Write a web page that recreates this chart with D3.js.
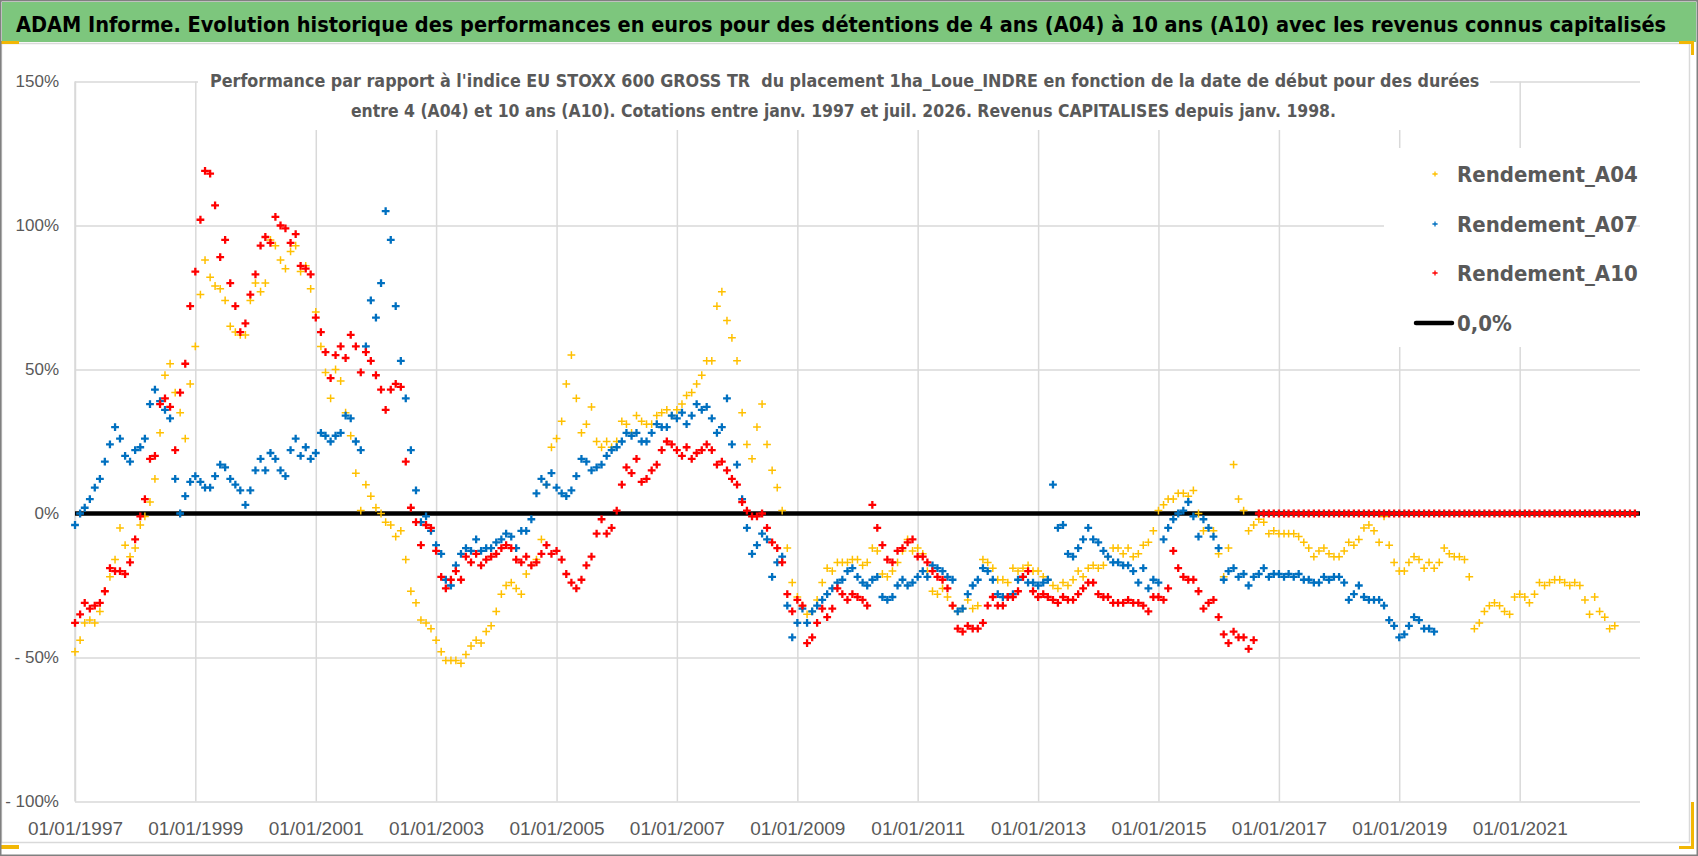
<!DOCTYPE html>
<html lang="fr">
<head>
<meta charset="UTF-8">
<title>ADAM Informe</title>
<style>
  body { margin: 0; background: #fff; }
  svg { display: block; font-family: "Liberation Sans Narrow", "Arial Narrow", "DejaVu Sans Condensed", sans-serif; }
  .pre { white-space: pre; }
</style>
</head>
<body>
<script src="https://cdn.jsdelivr.net/npm/d3@7/dist/d3.min.js"></script>
<script>
const titre = "ADAM Informe. Evolution historique des performances en euros pour des détentions de 4 ans (A04) à 10 ans (A10) avec les revenus connus capitalisés";
const sousTitre = [
  "Performance par rapport à l'indice EU STOXX 600 GROSS TR  du placement 1ha_Loue_INDRE en fonction de la date de début pour des durées",
  "entre 4 (A04) et 10 ans (A10). Cotations entre janv. 1997 et juil. 2026. Revenus CAPITALISES depuis janv. 1998."
];

// une valeur par mois a partir de janvier 1997 (en %)
const rendementA04 = [
  -48,-44,-38,-37,-38,-34,-27,-22,-16,-5,-11,-15,
  -12,-4,-1,4,12,28,48,52,42,35,26,45,
  58,76,88,82,79,78,74,65,63,62,62,74,
  80,77,80,95,93,88,85,91,93,84,86,78,
  70,58,49,40,50,46,35,27,14,1,10,6,
  2,0,-3,-4,-8,-6,-16,-27,-31,-37,-38,-40,
  -44,-48,-51,-51,-51,-52,-49,-46,-44,-45,-41,-39,
  -34,-28,-25,-24,-26,-28,-21,-18,-16,-9,10,23,
  26,32,45,55,40,28,31,37,25,23,25,23,
  25,32,31,28,34,32,31,31,34,35,36,34,
  36,38,41,42,45,48,53,53,72,77,67,61,
  53,35,24,19,30,38,24,15,9,1,-12,-24,
  -29,-32,-35,-34,-30,-24,-19,-20,-17,-17,-17,-16,
  -16,-18,-17,-12,-13,-21,-22,-20,-17,-13,-9,-13,
  -12,-14,-20,-27,-28,-26,-29,-32,-34,-33,-30,-33,
  -32,-16,-17,-19,-23,-23,-24,-19,-20,-19,-18,-20,
  -20,-22,-23,-25,-26,-24,-25,-23,-20,-22,-19,-18,
  -19,-18,-15,-12,-12,-14,-12,-15,-14,-11,-10,-6,
  1,3,5,5,7,7,6,8,0,-6,-5,-6,
  -14,-22,-12,17,5,1,-6,-4,-2,-3,-7,-6,
  -7,-7,-7,-7,-8,-10,-12,-15,-13,-12,-14,-15,
  -15,-13,-10,-11,-9,-5,-4,-6,-10,-1,-11,-17,
  -20,-20,-17,-15,-16,-19,-17,-19,-17,-12,-14,-15,
  -15,-16,-22,-40,-38,-34,-32,-31,-32,-34,-35,-29,
  -28,-29,-31,-28,-24,-25,-24,-23,-23,-24,-25,-24,
  -25,-30,-35,-29,-34,-36,-40,-39
];

const rendementA07 = [
  -4,0,2,5,9,12,18,24,30,26,20,18,
  22,23,26,38,43,39,36,33,12,0,6,11,
  13,11,9,9,13,17,16,12,10,8,3,8,
  15,19,15,21,19,15,13,22,26,20,23,19,
  21,28,27,25,27,28,34,33,25,22,58,74,
  68,80,105,95,72,53,40,22,8,-3,-1,-6,
  -11,-14,-23,-25,-18,-14,-12,-13,-9,-13,-12,-12,
  -10,-9,-7,-8,-12,-6,-6,-2,7,12,10,14,
  9,7,6,8,13,19,18,15,16,17,20,22,
  23,25,28,27,28,25,25,28,31,30,30,34,
  33,35,31,34,38,36,37,33,28,30,40,24,
  17,5,-5,-14,-11,-7,-9,-22,-17,-15,-32,-43,
  -38,-33,-38,-34,-32,-30,-28,-26,-24,-23,-20,-19,
  -22,-24,-25,-23,-22,-29,-30,-29,-25,-23,-25,-24,
  -22,-20,-22,-18,-19,-20,-22,-23,-34,-33,-28,-25,
  -23,-19,-20,-23,-28,-29,-29,-28,-23,-22,-24,-24,
  -25,-24,-23,10,-5,-4,-14,-15,-12,-9,-5,-9,
  -10,-13,-15,-17,-17,-18,-18,-20,-24,-19,-26,-23,
  -24,-9,-5,-2,0,1,4,-1,-8,-2,-5,-8,
  -12,-23,-20,-19,-22,-21,-25,-22,-21,-19,-22,-21,
  -21,-22,-21,-22,-21,-23,-23,-24,-24,-22,-23,-22,
  -22,-24,-30,-28,-25,-29,-30,-30,-30,-32,-37,-39,
  -43,-42,-39,-36,-37,-40,-40,-41
];

const rendementA10 = [
  -38,-35,-31,-33,-32,-31,-27,-19,-20,-20,-21,-17,
  -9,-1,5,19,20,38,40,37,22,42,52,72,
  84,102,119,118,107,89,95,80,72,63,66,76,
  83,93,96,94,103,100,99,94,97,86,85,83,
  68,63,56,47,55,58,54,62,58,49,56,53,
  48,43,36,43,45,44,18,2,-3,-11,-4,-5,
  -13,-22,-26,-23,-20,-23,-15,-17,-14,-18,-16,-15,
  -14,-12,-11,-12,-16,-17,-15,-18,-17,-14,-11,-14,
  -13,-16,-21,-24,-26,-23,-18,-15,-7,-2,-7,-5,
  1,10,16,14,19,11,12,15,17,22,25,24,
  22,20,23,19,21,22,24,22,17,18,15,12,
  10,4,1,-1,-1,0,-5,-10,-12,-17,-28,-34,
  -30,-32,-45,-43,-38,-33,-36,-33,-26,-28,-30,-28,
  -29,-30,-32,3,-5,-11,-16,-17,-13,-12,-10,-9,
  -15,-15,-17,-20,-22,-23,-26,-32,-40,-41,-39,-40,
  -40,-38,-32,-29,-32,-32,-29,-29,-27,-22,-20,-27,
  -29,-28,-29,-30,-31,-29,-30,-30,-28,-26,-24,-24,
  -28,-29,-29,-31,-31,-31,-30,-31,-31,-32,-34,-29,
  -29,-30,-26,-13,-19,-22,-23,-23,-27,-33,-31,-30,
  -36,-42,-45,-41,-43,-43,-47,-44,0,0,0,0,
  0,0,0,0,0,0,0,0,0,0,0,0,
  0,0,0,0,0,0,0,0,0,0,0,0,
  0,0,0,0,0,0,0,0,0,0,0,0,
  0,0,0,0,0,0,0,0,0,0,0,0,
  0,0,0,0,0,0,0,0,0,0,0,0,
  0,0,0,0,0,0,0,0,0,0,0,0
];

const series = ["Rendement_A04", "Rendement_A07", "Rendement_A10"];
const couleurs = ["#ffc000", "#0070c0", "#ff0000"];
const ligneZeroNom = "0,0%";
const yTicks = [150, 100, 50, 0, -50, -100];
const xTickAnnees = [1997, 1999, 2001, 2003, 2005, 2007, 2009, 2011, 2013, 2015, 2017, 2019, 2021];
const ligneGrise = -37.7;

const W = 1698, H = 856;
const pLeft = 75, pRight = 1640, pTop = 81.5, pBottom = 801.5;

const svg = d3.select("body").append("svg")
  .attr("width", W)
  .attr("height", H);

// ajuste la taille de police pour que le texte occupe la largeur voulue
function ajuste(sel, largeur) {
  const w = sel.node().getComputedTextLength();
  const fs = +sel.attr("font-size");
  sel.attr("font-size", (fs * largeur / w).toFixed(2));
}

svg.append("rect").attr("width", W).attr("height", H).attr("fill", "#fff");

// bandeau titre
svg.append("rect")
  .attr("x", 2).attr("y", 2).attr("width", W - 4).attr("height", 40)
  .attr("fill", "#7dc67d");
const t = svg.append("text")
  .attr("x", 16).attr("y", 32)
  .attr("font-size", 25).attr("font-weight", "bold").attr("fill", "#000")
  .text(titre);
ajuste(t, 1650);

// cadre du graphique
svg.append("rect")
  .attr("x", 1.5).attr("y", 43.5).attr("width", 1688).attr("height", 799)
  .attr("fill", "none").attr("stroke", "#d9d9d9").attr("stroke-width", 1.5);

const x = d3.scaleTime()
  .domain([new Date(1997, 0, 1), new Date(2023, 0, 1)])
  .range([pLeft, pRight]);
const y = d3.scaleLinear()
  .domain([-100, 150])
  .range([pBottom, pTop]);

const fmtPct = d => d < 0 ? "- " + (-d) + "%" : d + "%";

const gx = svg.append("g")
  .attr("transform", `translate(0,${pBottom})`)
  .call(d3.axisBottom(x)
    .tickValues(xTickAnnees.map(a => new Date(a, 0, 1)))
    .tickSize(-(pBottom - pTop))
    .tickPadding(20)
    .tickFormat(d3.timeFormat("%d/%m/%Y")));
gx.select(".domain").remove();
gx.selectAll("line").attr("stroke", "#d9d9d9").attr("stroke-width", 1.5);
gx.selectAll("text").attr("fill", "#595959").attr("font-size", 19).attr("font-family", null);

const gy = svg.append("g")
  .attr("transform", `translate(${pLeft},0)`)
  .call(d3.axisLeft(y)
    .tickValues(yTicks)
    .tickSize(-(pRight - pLeft))
    .tickPadding(16)
    .tickFormat(fmtPct));
gy.select(".domain").remove();
gy.selectAll("line").attr("stroke", "#d9d9d9").attr("stroke-width", 1.5);
gy.selectAll("text").attr("fill", "#595959").attr("font-size", 17).attr("font-family", null);

// axe vertical
svg.append("line")
  .attr("x1", pLeft).attr("x2", pLeft).attr("y1", pTop).attr("y2", pBottom)
  .attr("stroke", "#d9d9d9").attr("stroke-width", 1.5);

svg.append("line")
  .attr("x1", pLeft).attr("x2", pRight)
  .attr("y1", y(ligneGrise)).attr("y2", y(ligneGrise))
  .attr("stroke", "#d9d9d9").attr("stroke-width", 1.5);

// ligne 0 %
svg.append("line")
  .attr("x1", x(new Date(1997, 0, 1))).attr("x2", x(new Date(2023, 0, 1)))
  .attr("y1", y(0)).attr("y2", y(0))
  .attr("stroke", "#000").attr("stroke-width", 4.5);

const plus = s => `M${-s},0H${s}M0,${-s}V${s}`;

[rendementA04, rendementA07, rendementA10].forEach((vals, i) => {
  svg.append("g")
    .selectAll("path")
    .data(vals)
    .enter()
    .append("path")
    .attr("transform", (d, k) => `translate(${x(d3.timeMonth.offset(new Date(1997, 0, 1), k))},${y(d)})`)
    .attr("d", plus(3.9))
    .attr("stroke", couleurs[i])
    .attr("stroke-width", i === 0 ? 1.5 : 2.3)
    .attr("fill", "none");
});

// sous-titre
svg.append("rect")
  .attr("x", 198).attr("y", 62).attr("width", 1292).attr("height", 68)
  .attr("fill", "#fff");
const s1 = svg.append("text")
  .attr("class", "pre")
  .attr("x", 210).attr("y", 87)
  .attr("font-size", 21).attr("font-weight", "bold").attr("fill", "#595959")
  .text(sousTitre[0]);
ajuste(s1, 1270);
const s2 = svg.append("text")
  .attr("x", 351).attr("y", 117)
  .attr("font-size", 21).attr("font-weight", "bold").attr("fill", "#595959")
  .text(sousTitre[1]);
ajuste(s2, 986);

// legende
svg.append("rect")
  .attr("x", 1384).attr("y", 148).attr("width", 244).attr("height", 199)
  .attr("fill", "#fff");
const leg = svg.append("g");
const rows = [174, 224, 273, 323];
series.forEach((s, i) => {
  leg.append("path")
    .attr("transform", `translate(1435,${rows[i]})`)
    .attr("d", plus(2.6))
    .attr("stroke", couleurs[i])
    .attr("stroke-width", 1.3)
    .attr("fill", "none");
  leg.append("text")
    .attr("x", 1457).attr("y", rows[i]).attr("dy", "0.36em")
    .attr("font-size", 22).attr("font-weight", "bold").attr("fill", "#595959")
    .text(s);
});
leg.append("line")
  .attr("x1", 1416).attr("x2", 1452).attr("y1", rows[3]).attr("y2", rows[3])
  .attr("stroke", "#000").attr("stroke-width", 4.5).attr("stroke-linecap", "round");
leg.append("text")
  .attr("x", 1457).attr("y", rows[3]).attr("dy", "0.36em")
  .attr("font-size", 22).attr("font-weight", "bold").attr("fill", "#595959")
  .text(ligneZeroNom);

// poignees de selection
const poignees = [[1, 41, 18, 3], [1679, 41, 15, 3], [1691, 41, 3, 14], [1691, 802, 3, 47], [1679, 846, 15, 3], [1, 845, 18, 4]];
svg.append("g").selectAll("rect").data(poignees).enter().append("rect")
  .attr("x", d => d[0]).attr("y", d => d[1]).attr("width", d => d[2]).attr("height", d => d[3])
  .attr("fill", "#f2b705");

// cadre exterieur
svg.append("rect")
  .attr("x", 0.75).attr("y", 0.75).attr("width", W - 1.5).attr("height", H - 1.5)
  .attr("fill", "none").attr("stroke", "#808080").attr("stroke-width", 1.5);
</script>
</body>
</html>
